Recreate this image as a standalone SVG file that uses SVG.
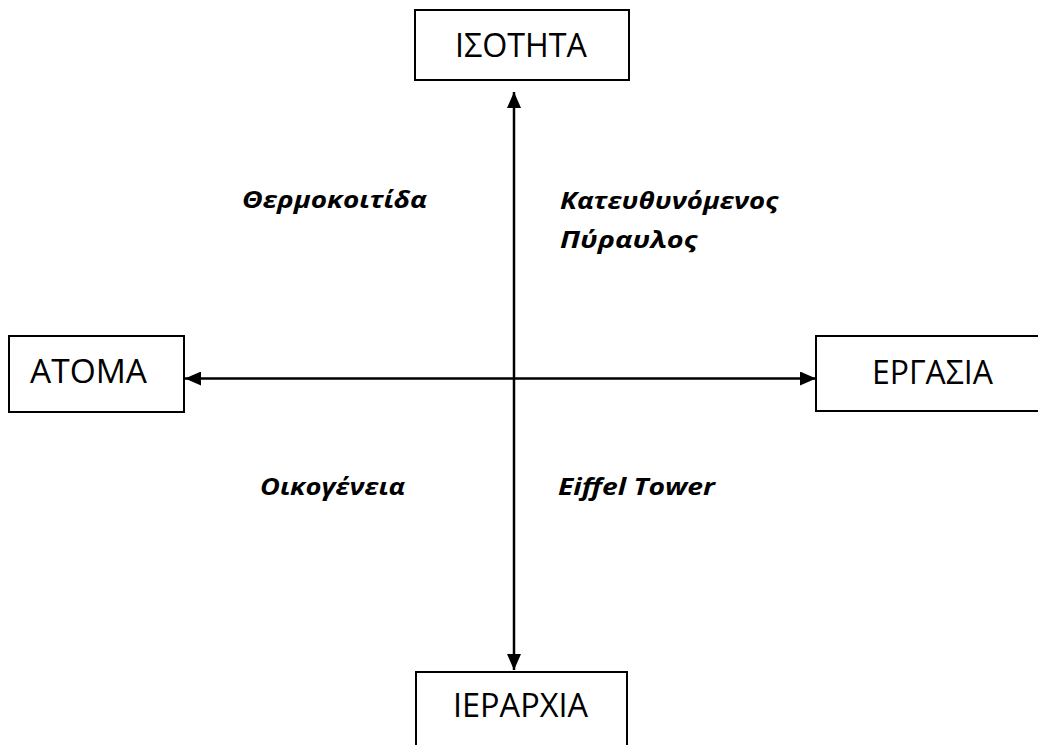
<svg xmlns="http://www.w3.org/2000/svg" width="1038" height="745" viewBox="0 0 1038 745">
<style>
.box{fill:#fff;stroke:#000;stroke-width:2}
.bt{font-family:"Open Sans","Noto Sans",sans-serif;font-size:33px;fill:#000}
.lb{font-family:"Open Sans","Noto Sans",sans-serif;font-size:24px;font-weight:bold;font-style:italic;fill:#000}
.ax{stroke:#000;stroke-width:2.5;fill:none}
</style>
<defs>
<marker id="ah" markerUnits="userSpaceOnUse" markerWidth="16" markerHeight="14" refX="16" refY="7" orient="auto-start-reverse">
<path d="M0,0 L16,7 L0,14 Z" fill="#000"/>
</marker>
</defs>
<rect width="1038" height="745" fill="#fff"/>
<g id="connectors">
<line class="ax" x1="514" y1="92" x2="514" y2="670" marker-start="url(#ah)" marker-end="url(#ah)"/>
<line class="ax" x1="185" y1="378.5" x2="816" y2="378.5" marker-start="url(#ah)" marker-end="url(#ah)"/>
</g>
<g id="isotita">
<rect class="box" x="415" y="10" width="214" height="70"/>
<text class="bt" x="455" y="57" textLength="132" lengthAdjust="spacingAndGlyphs">ΙΣΟΤΗΤΑ</text>
</g>
<g id="atoma">
<rect class="box" x="9" y="336" width="175" height="76"/>
<text class="bt" x="30" y="383" textLength="117" lengthAdjust="spacingAndGlyphs">ΑΤΟΜΑ</text>
</g>
<g id="ergasia">
<rect class="box" x="816" y="336" width="240" height="75"/>
<text class="bt" x="872" y="384" textLength="121" lengthAdjust="spacingAndGlyphs">ΕΡΓΑΣΙΑ</text>
</g>
<g id="ierarchia">
<rect class="box" x="416" y="672" width="211" height="90"/>
<text class="bt" x="453" y="717" textLength="135" lengthAdjust="spacingAndGlyphs">ΙΕΡΑΡΧΙΑ</text>
</g>
<g id="labels">
<text class="lb" x="242" y="208" textLength="185" lengthAdjust="spacingAndGlyphs">Θερμοκοιτίδα</text>
<text class="lb" x="560" y="209" textLength="218" lengthAdjust="spacingAndGlyphs">Κατευθυνόμενος</text>
<text class="lb" x="560" y="248" textLength="137" lengthAdjust="spacingAndGlyphs">Πύραυλος</text>
<text class="lb" x="260" y="495" textLength="145" lengthAdjust="spacingAndGlyphs">Οικογένεια</text>
<text class="lb" x="558" y="495" textLength="157" lengthAdjust="spacingAndGlyphs">Eiffel Tower</text>
</g>
</svg>
